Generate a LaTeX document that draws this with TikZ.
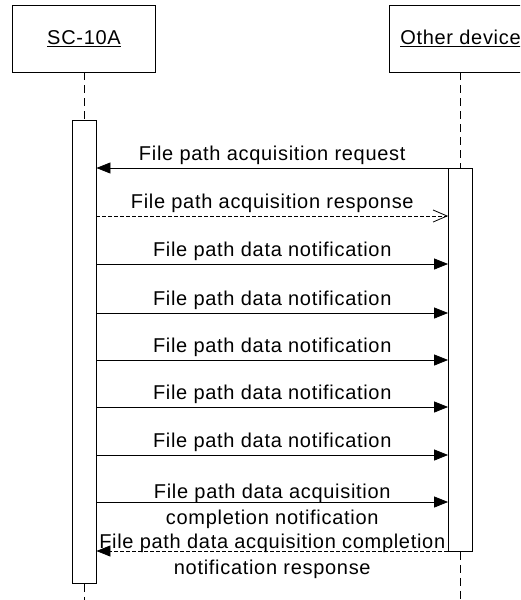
\documentclass[tikz,border=0pt]{standalone}
\usepackage{fontspec}
\setmainfont{Liberation Sans}[LetterSpace=3.5]
\usetikzlibrary{arrows.meta}

\begin{document}
\begin{tikzpicture}[x=1pt,y=-1pt,line width=0.8pt,
        font=\fontsize{20}{26}\selectfont,
        actor/.style={draw,minimum width=143pt,minimum height=67pt},
        bar/.style={draw,fill=white,minimum width=24pt,inner sep=0pt,anchor=north},
        life/.style={dash pattern=on 8pt off 5pt},
        msg/.style={-{Triangle[length=14pt,width=11pt]}},
        reply/.style={dash pattern=on 4pt off 2pt,-{Straight Barb[length=14pt,width=12pt]}},
        lbl/.style={midway,anchor=base,yshift=7.5pt,inner sep=0pt}]
    \clip (0,0) rectangle (520,600);
    % lifelines
    \node[actor] (sc) at (84,38.5) {\underline{SC-10A}};
    \node[actor] (od) at (460.5,38.5) {\underline{Other device}};
    \node[bar,minimum height=463pt] (barA) at (84,120) {};
    \node[bar,minimum height=383pt] (barB) at (460.5,168) {};
    \draw[life] (sc) -- (barA);
    \draw[life] (barA.south) -- (84,600);
    \draw[life] (od) -- (barB);
    \draw[life] (barB.south) -- (460.5,600);
    % messages
    \draw[msg] (barB.west |- 0,168) -- node[lbl] {File path acquisition request} (barA.east |- 0,168);
    \draw[reply] (barA.east |- 0,216) -- node[lbl] {File path acquisition response} (barB.west |- 0,216);
    \foreach \y in {264,313,360,407,455}
        \draw[msg] (barA.east |- 0,\y) -- node[lbl] {File path data notification} (barB.west |- 0,\y);
    \draw[msg] (barA.east |- 0,502) -- node[midway,align=center,yshift=-4pt] {File path data acquisition\\completion notification} (barB.west |- 0,502);
    \draw[msg,dash pattern=on 4pt off 2pt] (barB.west |- 0,551) -- node[midway,align=center,yshift=-5.5pt] {File path data acquisition completion\\notification response} (barA.east |- 0,551);
\end{tikzpicture}
\end{document}
